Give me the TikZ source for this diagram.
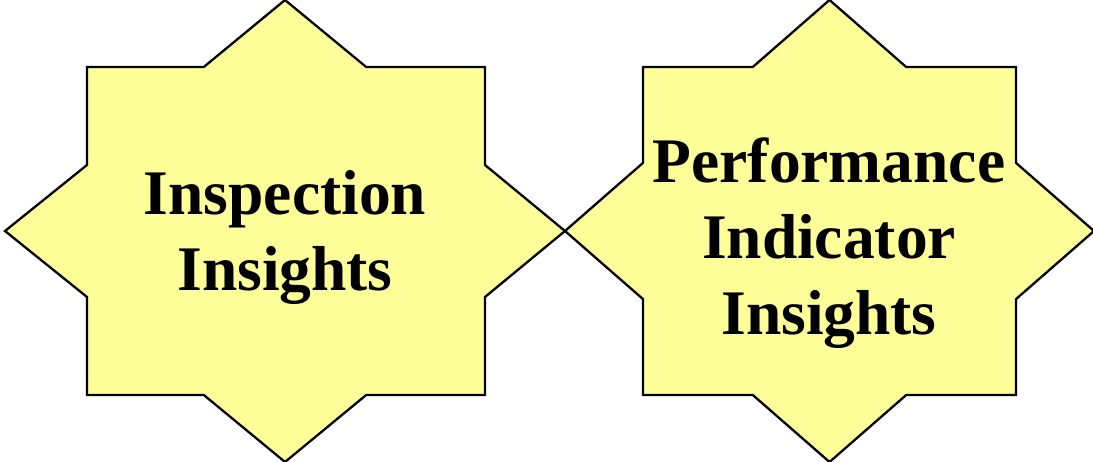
\documentclass[tikz,border=0pt]{standalone}
\usepackage{fontspec}
\setmainfont{Liberation Serif}
\definecolor{starfill}{HTML}{FFFF99}
\begin{document}
\begin{tikzpicture}[x=1pt,y=-1pt,
  starshape/.style={draw=black,fill=starfill,line width=2.3pt,line join=miter},
  label/.style={align=center,inner sep=0pt,font=\bfseries\fontsize{63.5}{76}\selectfont}]
\useasboundingbox (0,0) rectangle (1093,462);
% left star
\draw[starshape] (285,0) -- (366.2,67) -- (485,67) -- (485,165) -- (565,231)
  -- (485,297) -- (485,395) -- (366.2,395) -- (285,462) -- (203.8,395)
  -- (87,395) -- (87,297) -- (5,231) -- (87,165) -- (87,67) -- (203.8,67) -- cycle;
% right star
\draw[starshape] (829.5,0) -- (906.2,67) -- (1016,67) -- (1016,162.9) -- (1094,231)
  -- (1016,299.1) -- (1016,395) -- (906.2,395) -- (829.5,462) -- (752.8,395)
  -- (643,395) -- (643,299.1) -- (565,231) -- (643,162.9) -- (643,67) -- (752.8,67) -- cycle;
\node[label] (inspection) at (285,237.5) {Inspection\\Insights};
\node[label] (performance) at (829,243.5) {Performance\\Indicator\\Insights};
\end{tikzpicture}
\end{document}
